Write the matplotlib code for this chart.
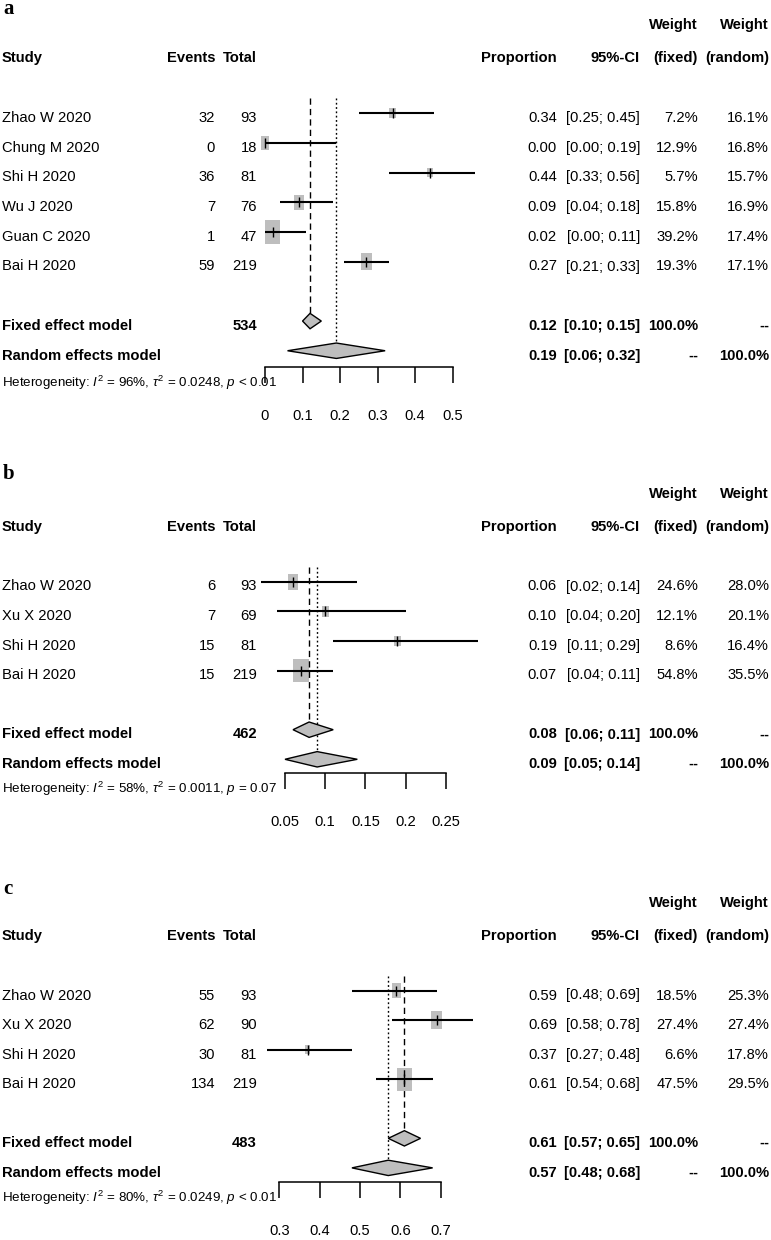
import numpy as np
import matplotlib
matplotlib.use("Agg")
import matplotlib.pyplot as plt
from matplotlib import font_manager
from matplotlib.path import Path


def pick_font(names):
    for n in names:
        try:
            font_manager.findfont(n, fallback_to_default=False)
            return n
        except ValueError:
            continue
    return "DejaVu Sans"


SANS = pick_font(["Liberation Sans Narrow", "Liberation Sans", "Arial"])
SERIF = pick_font(["Liberation Serif", "DejaVu Serif"])
plt.rcParams["font.family"] = [SANS, "DejaVu Sans"]
plt.rcParams["mathtext.fontset"] = "custom"
plt.rcParams["mathtext.rm"] = SANS
plt.rcParams["mathtext.it"] = SANS + ":italic"

# ---- panel a ----
a_study = ["Zhao W 2020", "Chung M 2020", "Shi H 2020", "Wu J 2020", "Guan C 2020", "Bai H 2020"]
a_events = [32, 0, 36, 7, 1, 59]
a_total = [93, 18, 81, 76, 47, 219]
a_prop = [0.34, 0.00, 0.44, 0.09, 0.02, 0.27]
a_lo = [0.25, 0.00, 0.33, 0.04, 0.00, 0.21]
a_hi = [0.45, 0.19, 0.56, 0.18, 0.11, 0.33]
a_wfix = [7.2, 12.9, 5.7, 15.8, 39.2, 19.3]
a_wran = [16.1, 16.8, 15.7, 16.9, 17.4, 17.1]
a_fixed = [534, 0.12, 0.10, 0.15]
a_random = [0.19, 0.06, 0.32]
a_het = ["96%", "0.0248", "p < 0.01"]
a_ticks = [0, 0.1, 0.2, 0.3, 0.4, 0.5]

# ---- panel b ----
b_study = ["Zhao W 2020", "Xu X 2020", "Shi H 2020", "Bai H 2020"]
b_events = [6, 7, 15, 15]
b_total = [93, 69, 81, 219]
b_prop = [0.06, 0.10, 0.19, 0.07]
b_lo = [0.02, 0.04, 0.11, 0.04]
b_hi = [0.14, 0.20, 0.29, 0.11]
b_wfix = [24.6, 12.1, 8.6, 54.8]
b_wran = [28.0, 20.1, 16.4, 35.5]
b_fixed = [462, 0.08, 0.06, 0.11]
b_random = [0.09, 0.05, 0.14]
b_het = ["58%", "0.0011", "p = 0.07"]
b_ticks = [0.05, 0.1, 0.15, 0.2, 0.25]

# ---- panel c ----
c_study = ["Zhao W 2020", "Xu X 2020", "Shi H 2020", "Bai H 2020"]
c_events = [55, 62, 30, 134]
c_total = [93, 90, 81, 219]
c_prop = [0.59, 0.69, 0.37, 0.61]
c_lo = [0.48, 0.58, 0.27, 0.54]
c_hi = [0.69, 0.78, 0.48, 0.68]
c_wfix = [18.5, 27.4, 6.6, 47.5]
c_wran = [25.3, 27.4, 17.8, 29.5]
c_fixed = [483, 0.61, 0.57, 0.65]
c_random = [0.57, 0.48, 0.68]
c_het = ["80%", "0.0249", "p < 0.01"]
c_ticks = [0.3, 0.4, 0.5, 0.6, 0.7]

W, H = 771, 1240
FS = 10.6
BASE = 8.8  # text baseline below row centre, px
GREY = "#BEBEBE"

# column right edges (px)
X_EVENTS, X_TOTAL, X_PROP, X_CI, X_WFIX, X_WRAN = 215, 257, 557, 640, 698, 769

fig = plt.figure(figsize=(W / 100, H / 100), dpi=100)
bg = fig.add_axes([0, 0, 1, 1])
bg.set_xlim(0, W)
bg.set_ylim(H, 0)
bg.axis("off")

rect = Path([(-0.325, -0.5), (0.325, -0.5), (0.325, 0.5), (-0.325, 0.5), (-0.325, -0.5)],
            [Path.MOVETO, Path.LINETO, Path.LINETO, Path.LINETO, Path.CLOSEPOLY])


def panel(letter, letter_y, study, events, total, prop, lo, hi, wfix, wran,
          fixed, random, het, ticks, x0, x1, row0, dy, axis_y):
    n = len(study)
    # forest axes
    top = row0 - dy
    ax = fig.add_axes([x0 / W, 1 - axis_y / H, (x1 - x0) / W, (axis_y - top) / H])
    ax.set_xlim(ticks[0], ticks[-1])
    ax.set_ylim((axis_y - row0) / dy, -1)
    ax.patch.set_visible(False)
    for s in ["top", "left", "right"]:
        ax.spines[s].set_visible(False)
    ax.spines["bottom"].set_linewidth(1.1)
    ax.set_yticks([])
    ax.set_xticks(ticks)
    ax.set_xticklabels([f"{t:g}" for t in ticks])
    ax.tick_params(axis="x", direction="out", length=11.5, width=1.1, pad=19, labelsize=FS)

    rows = np.arange(n)
    wmax = max(wfix)
    sizes = [(16.9 * np.sqrt(w / wmax)) ** 2 for w in wfix]
    ax.scatter(prop, rows, s=sizes, marker=rect, color=GREY, linewidths=0, zorder=2, clip_on=False)
    ax.hlines(rows, lo, hi, color="black", lw=1.5, zorder=3, clip_on=False)
    ax.plot(prop, rows, ls="none", marker="|", ms=7, mew=1, color="black", zorder=4, clip_on=False)

    h = 0.26
    rf, rr = n + 1, n + 2
    ax.vlines(fixed[1], -0.5, rf - h, color="black", lw=1, linestyles=(0, (4.5, 3)), clip_on=False)
    ax.vlines(random[0], -0.5, rr - h, color="black", lw=1, linestyles=(0, (1.3, 1.8)), clip_on=False)
    ax.fill([fixed[2], fixed[1], fixed[3], fixed[1]], [rf, rf - h, rf, rf + h],
            facecolor=GREY, edgecolor="black", lw=1, zorder=3, clip_on=False)
    ax.fill([random[1], random[0], random[2], random[0]], [rr, rr - h, rr, rr + h],
            facecolor=GREY, edgecolor="black", lw=1, zorder=3, clip_on=False)

    # text table
    bg.text(3, letter_y, letter, fontsize=15, fontweight="bold", family=SERIF, va="baseline")
    hy = row0 - 51
    bold = dict(fontsize=FS, fontweight="bold", va="baseline")
    bg.text(2, hy, "Study", ha="left", **bold)
    bg.text(X_EVENTS, hy, "Events", ha="right", **bold)
    bg.text(X_TOTAL, hy, "Total", ha="right", **bold)
    bg.text(X_PROP, hy, "Proportion", ha="right", **bold)
    bg.text(X_CI, hy, "95%-CI", ha="right", **bold)
    bg.text(X_WFIX, hy - 33, "Weight", ha="right", **bold)
    bg.text(X_WFIX, hy, "(fixed)", ha="right", **bold)
    bg.text(X_WRAN, hy - 33, "Weight", ha="right", **bold)
    bg.text(X_WRAN, hy, "(random)", ha="right", **bold)

    norm = dict(fontsize=FS, va="baseline")
    for i in range(n):
        y = row0 + i * dy + BASE
        bg.text(2, y, study[i], ha="left", **norm)
        bg.text(X_EVENTS, y, str(events[i]), ha="right", **norm)
        bg.text(X_TOTAL, y, str(total[i]), ha="right", **norm)
        bg.text(X_PROP, y, f"{prop[i]:.2f}", ha="right", **norm)
        bg.text(X_CI, y, f"[{lo[i]:.2f}; {hi[i]:.2f}]", ha="right", **norm)
        bg.text(X_WFIX, y, f"{wfix[i]:.1f}%", ha="right", **norm)
        bg.text(X_WRAN, y, f"{wran[i]:.1f}%", ha="right", **norm)

    y = row0 + rf * dy + BASE
    bg.text(2, y, "Fixed effect model", ha="left", **bold)
    bg.text(X_TOTAL, y, str(fixed[0]), ha="right", **bold)
    bg.text(X_PROP, y, f"{fixed[1]:.2f}", ha="right", **bold)
    bg.text(X_CI, y, f"[{fixed[2]:.2f}; {fixed[3]:.2f}]", ha="right", **bold)
    bg.text(X_WFIX, y, "100.0%", ha="right", **bold)
    bg.text(X_WRAN, y, "--", ha="right", **bold)
    y = row0 + rr * dy + BASE
    bg.text(2, y, "Random effects model", ha="left", **bold)
    bg.text(X_PROP, y, f"{random[0]:.2f}", ha="right", **bold)
    bg.text(X_CI, y, f"[{random[1]:.2f}; {random[2]:.2f}]", ha="right", **bold)
    bg.text(X_WFIX, y, "--", ha="right", **bold)
    bg.text(X_WRAN, y, "100.0%", ha="right", **bold)

    p_word, p_rest = het[2].split(" ", 1)
    bg.text(2, axis_y + 20,
            r"Heterogeneity: $I^2$ = " + het[0] + r", $\tau^2$ = " + het[1] + ", $" + p_word + "$ " + p_rest,
            ha="left", fontsize=9.6, va="baseline")


panel("a", 14, a_study, a_events, a_total, a_prop, a_lo, a_hi, a_wfix, a_wran,
      a_fixed, a_random, a_het, a_ticks, 265, 452.7, 113.3, 29.68, 366.7)
panel("b", 479, b_study, b_events, b_total, b_prop, b_lo, b_hi, b_wfix, b_wran,
      b_fixed, b_random, b_het, b_ticks, 285, 445.7, 581.7, 29.6, 773)
panel("c", 894, c_study, c_events, c_total, c_prop, c_lo, c_hi, c_wfix, c_wran,
      c_fixed, c_random, c_het, c_ticks, 279.3, 440.7, 990.7, 29.53, 1182)

fig.savefig("out.png", dpi=100)
